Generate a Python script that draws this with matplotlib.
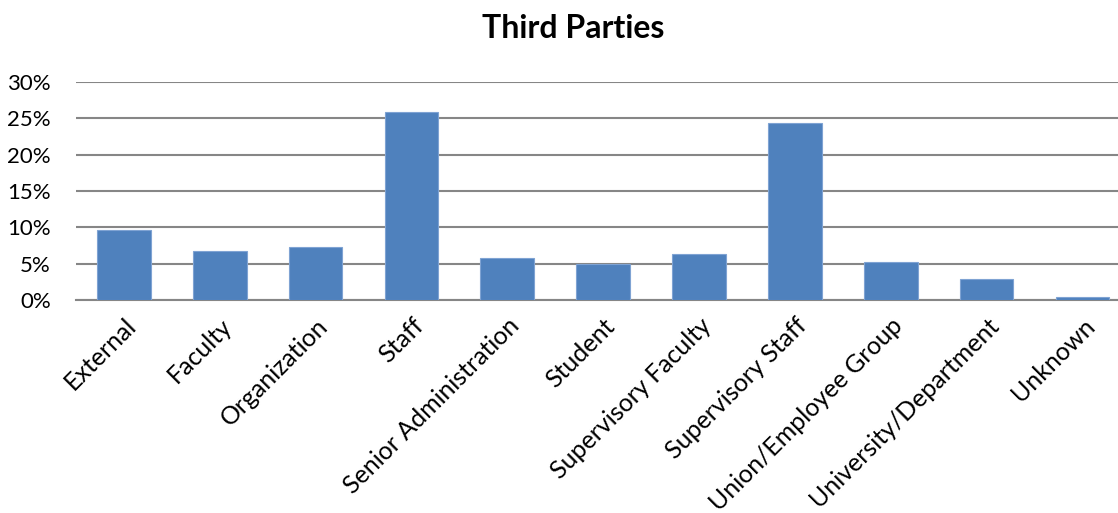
import matplotlib
matplotlib.use("Agg")
import matplotlib.pyplot as plt
from matplotlib.ticker import FuncFormatter

# 数据：第三方类别及占比(%)
categories = ["External", "Faculty", "Organization", "Staff", "Senior Administration",
              "Student", "Supervisory Faculty", "Supervisory Staff",
              "Union/Employee Group", "University/Department", "Unknown"]
values = [9.7, 6.8, 7.3, 25.9, 5.8, 4.9, 6.3, 24.4, 5.3, 2.9, 0.4]
yticks = [0, 5, 10, 15, 20, 25, 30]

plt.rcParams['font.family'] = ['Lato', 'DejaVu Sans']

fig = plt.figure(figsize=(11.18, 5.13), dpi=100)
# 绘图区右侧略超出画布(参考图被裁切)
ax = fig.add_axes([0.068, 0.415, 0.943, 0.425])

x = list(range(len(categories)))
ax.bar(x, values, width=0.56, color='#4F81BD', edgecolor='#7FA3D3', linewidth=0.8, zorder=3)

ax.set_ylim(0, 30)
ax.set_xlim(-0.5, len(categories) - 0.5)
ax.set_yticks(yticks)
ax.yaxis.set_major_formatter(FuncFormatter(lambda v, p: f"{int(v)}%"))
ax.grid(axis='y', color='#868686', linewidth=1.5, zorder=0)
ax.set_axisbelow(True)

for s in ['top', 'right', 'left']:
    ax.spines[s].set_visible(False)
ax.spines['bottom'].set_color('#868686')
ax.spines['bottom'].set_linewidth(1.5)

ax.tick_params(axis='y', length=0, labelsize=16, pad=18)
ax.tick_params(axis='x', length=0, labelsize=18, pad=10)
ax.set_xticks(x)
ax.set_xticklabels(categories, rotation=45, ha='right', rotation_mode='anchor')

fig.text(0.5125, 0.945, "Third Parties", ha='center', va='center',
         fontsize=23, fontweight='bold')

fig.savefig("out.png", dpi=100)
